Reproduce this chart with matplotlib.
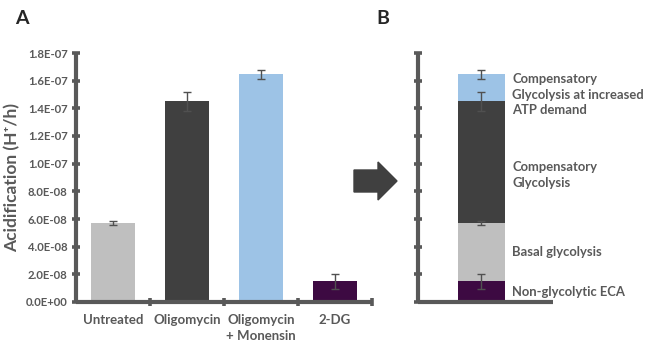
import matplotlib
matplotlib.use("Agg")
import matplotlib.pyplot as plt
from matplotlib.patches import FancyArrow

# data
categories = ["Untreated", "Oligomycin", "Oligomycin\n+ Monensin", "2-DG"]
acidification = [5.7e-8, 1.45e-7, 1.645e-7, 1.5e-8]
errors = [0.15e-8, 0.7e-8, 0.3e-8, 0.55e-8]
bar_colors = ["#bfbfbf", "#404040", "#9dc3e6", "#3d0a42"]

yticks = [i * 2e-8 for i in range(10)]
ytick_labels = ["0.0E+00", "2.0E-08", "4.0E-08", "6.0E-08", "8.0E-08",
                "1.0E-07", "1.2E-07", "1.4E-07", "1.6E-07", "1.8E-07"]

# stacked bar in panel B, bottom to top
stack_labels = ["Non-glycolytic ECA", "Basal glycolysis",
                "Compensatory\nGlycolysis",
                "Compensatory\nGlycolysis at increased\nATP demand"]
stack_order = [3, 0, 1, 2]  # index into acidification for the top of each segment
stack_colors = ["#3d0a42", "#bfbfbf", "#404040", "#9dc3e6"]
label_nudge = [0, 0, -9, -5]  # points

AXIS = "#595959"
TEXT = "#595959"
FONT = ["Lato", "DejaVu Sans"]

fig = plt.figure(figsize=(6.5, 3.47), dpi=100)
W, H = 650, 347


def style_axes(ax):
    for s in ["top", "right"]:
        ax.spines[s].set_visible(False)
    for s in ["left", "bottom"]:
        ax.spines[s].set_color(AXIS)
        ax.spines[s].set_linewidth(3)
        ax.spines[s].set_capstyle("butt")
    ax.set_ylim(0, 1.8e-7)
    ax.set_yticks(yticks)
    ax.tick_params(axis="y", direction="inout", length=6, width=2.6, color=AXIS)


# panel A
axA = fig.add_axes([76 / W, 45 / H, 296 / W, 249 / H])
style_axes(axA)
x = range(len(categories))
axA.bar(x, acidification, width=0.6, color=bar_colors, zorder=2)
axA.errorbar(x, acidification, yerr=errors, fmt="none", ecolor="#505050",
             elinewidth=1.0, capsize=3, capthick=1.0, zorder=3)
axA.set_xlim(-0.5, 3.5)
axA.set_xticks(list(x))
axA.set_xticklabels(categories, fontsize=9.5, fontweight="bold", color=TEXT,
                    family=FONT, linespacing=1.35, va="top")
axA.tick_params(axis="x", length=0, pad=9)
axA.set_xticks([0.5, 1.5, 2.5, 3.5], minor=True)
axA.tick_params(axis="x", which="minor", direction="inout", length=6, width=2.6, color=AXIS)
axA.set_yticklabels(ytick_labels, fontsize=8.2, fontweight="bold", color=TEXT, family=FONT)
axA.tick_params(axis="y", pad=3)
axA.set_ylabel("Acidification (H\u207a/h)", fontsize=12.5, fontweight="bold",
               color=TEXT, family=FONT, labelpad=4)

# panel B
axB = fig.add_axes([418 / W, 45 / H, 135 / W, 249 / H])
style_axes(axB)
axB.set_yticklabels([])
axB.set_xlim(0, 1)
axB.set_xticks([])
bx = 0.47
bottom = 0
for lab, idx, col, nudge in zip(stack_labels, stack_order, stack_colors, label_nudge):
    top = acidification[idx]
    axB.bar(bx, top - bottom, bottom=bottom, width=0.35, color=col, zorder=2)
    axB.annotate(lab, xy=(0.7, (top + bottom) / 2), xycoords=("axes fraction", "data"),
                 xytext=(0, nudge), textcoords="offset points",
                 ha="left", va="center", fontsize=9.4, fontweight="bold",
                 color=TEXT, family=FONT, linespacing=1.35, annotation_clip=False)
    bottom = top
tops = [acidification[i] for i in stack_order]
errs = [errors[i] for i in stack_order]
axB.errorbar([bx] * 4, tops, yerr=errs, fmt="none", ecolor="#505050",
             elinewidth=1.0, capsize=3, capthick=1.0, zorder=3)

# panel letters
fig.text(15 / W, 1 - 18 / H, "A", fontsize=14, fontweight="bold", color="#262626",
         family=FONT, va="center")
fig.text(376 / W, 1 - 19 / H, "B", fontsize=14, fontweight="bold", color="#262626",
         family=FONT, va="center")

# block arrow between panels
arrow = FancyArrow(354, H - 181, 43, 0, width=22, head_width=38, head_length=19,
                   length_includes_head=True, color="#404040",
                   transform=None)
fig.patches.append(arrow)

fig.savefig("out.png", dpi=100)
